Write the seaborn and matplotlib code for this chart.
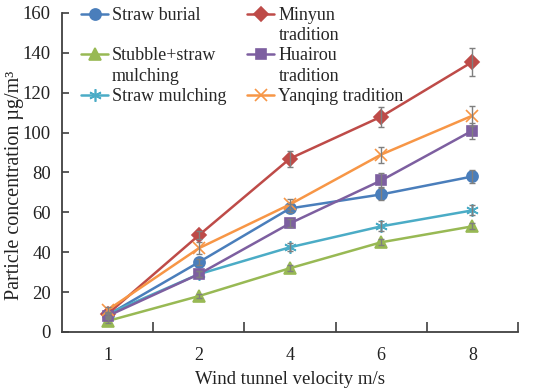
import numpy as np
import pandas as pd
import seaborn as sns
import matplotlib.pyplot as plt
from matplotlib.lines import Line2D

# 풍동 속도 (범주형 x축)
velocity = ["1", "2", "4", "6", "8"]

# 처리별 입자 농도 (µg/m3) 및 오차
straw_burial = [8.5, 35, 62, 69, 78]
straw_burial_err = [1, 1.5, 2, 3, 3.5]
minyun = [9, 48.5, 87, 108, 135.5]
minyun_err = [1, 2, 4, 5, 7]
stubble_mulching = [5.5, 18, 32, 45, 53]
stubble_mulching_err = [1, 1, 1.5, 1.5, 1.5]
huairou = [8, 29, 54.5, 76, 101]
huairou_err = [1, 1.5, 2, 3.5, 4]
straw_mulching = [9, 29, 42.5, 53, 61]
straw_mulching_err = [1, 1.5, 2, 2.5, 2.5]
yanqing = [11, 42, 64, 89, 108.5]
yanqing_err = [1.5, 3, 2.5, 4, 5]

sns.set_theme(style="ticks")
plt.rcParams['font.family'] = ['Liberation Serif', 'DejaVu Serif']

series = [
    ("Straw burial", straw_burial, straw_burial_err, "#4a7ebb", "o", 8),
    ("Stubble+straw", stubble_mulching, stubble_mulching_err, "#98b954", "^", 8.5),
    ("Straw mulching", straw_mulching, straw_mulching_err, "#4bacc6", (6, 2, 0), 9),
    ("Minyun", minyun, minyun_err, "#be4b48", "D", 7.5),
    ("Huairou", huairou, huairou_err, "#7d5fa0", "s", 7.5),
    ("Yanqing tradition", yanqing, yanqing_err, "#f79646", "x", 9),
]

fig = plt.figure(figsize=(5.5, 3.91), dpi=100)
ax = fig.add_axes([62 / 550, 1 - 332 / 391, 456 / 550, 319 / 391])

x_pos = np.arange(len(velocity))
for name, vals, err, color, marker, ms in series:
    sns.lineplot(x=x_pos, y=vals, color=color, marker=marker, markersize=ms,
                 markeredgecolor=color, markeredgewidth=1.2, linewidth=1.8,
                 ax=ax, label=name, zorder=2)
    ax.errorbar(x_pos, vals, yerr=err, fmt='none', ecolor='#7f7f7f',
                elinewidth=1, capsize=2, capthick=1, zorder=3)

# 범례 핸들 (두번째 줄은 빈 핸들)
h, l = ax.get_legend_handles_labels()
hd = dict(zip(l, h))
blank = Line2D([], [], linestyle='none', marker=None)
leg_handles = [hd["Straw burial"], blank, hd["Stubble+straw"], blank, hd["Straw mulching"],
               hd["Minyun"], blank, hd["Huairou"], blank, hd["Yanqing tradition"]]
leg_labels = ["Straw burial", " ", "Stubble+straw", "mulching", "Straw mulching",
              "Minyun", "tradition", "Huairou", "tradition", "Yanqing tradition"]
ax.legend(leg_handles, leg_labels, ncol=2, frameon=False, loc='upper left',
          bbox_to_anchor=(81 / 550, 1 - 7 / 391), bbox_transform=fig.transFigure,
          borderpad=0, borderaxespad=0, labelspacing=0.18, handlelength=1.5,
          handletextpad=0.22, columnspacing=1.15, fontsize=13)

ax.set_xlim(-0.5, 4.5)
ax.set_ylim(0, 160)
ax.set_yticks(np.arange(0, 161, 20))
ax.set_xticks(x_pos)
ax.set_xticklabels(velocity)
ax.set_xticks(x_pos + 0.5, minor=True)
ax.tick_params(axis='x', which='major', length=0, pad=11, labelsize=13, colors='#222222')
ax.tick_params(axis='x', which='minor', direction='in', length=7, width=1.2, color='#404040')
ax.tick_params(axis='y', direction='in', length=5, width=1.2, pad=8, labelsize=13.5,
               color='#404040', labelcolor='#222222')

for side in ['top', 'right']:
    ax.spines[side].set_visible(False)
for side in ['left', 'bottom']:
    ax.spines[side].set_linewidth(1.3)
    ax.spines[side].set_color('#404040')

ax.set_xlabel("Wind tunnel velocity m/s", fontsize=13.5, labelpad=5, color='#222222')
ax.set_ylabel("Particle concentration µg/m³", fontsize=14.5, color='#222222')
ax.yaxis.set_label_coords((24 - 62) / 456, (332 - 185) / 319)

fig.savefig("out.png", dpi=100)
